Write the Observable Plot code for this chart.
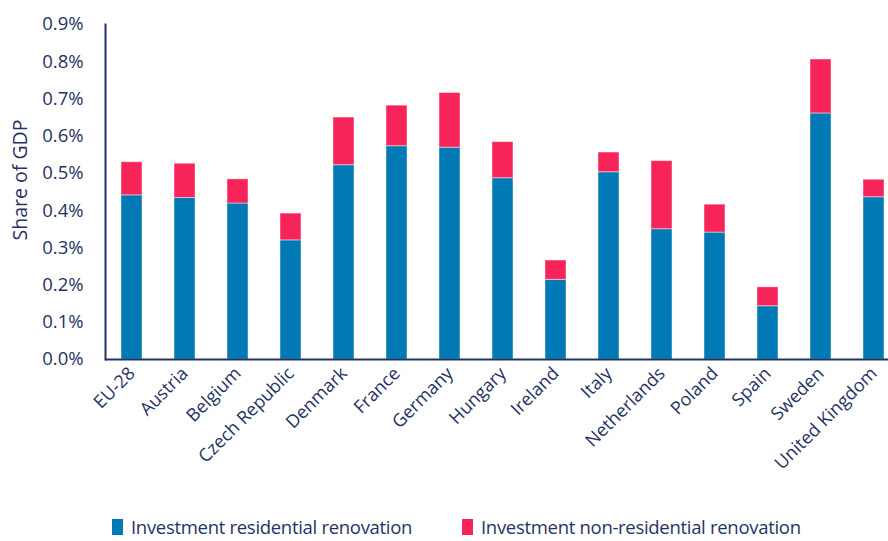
<!DOCTYPE html>
<html>
<head>
<meta charset="utf-8">
<script src="https://cdn.jsdelivr.net/npm/d3@7"></script>
<script src="https://cdn.jsdelivr.net/npm/@observablehq/plot@0.6"></script>
<style>
  html, body { margin: 0; padding: 0; background: #fff; }
  #wrap { width: 888px; height: 541px; position: relative; overflow: hidden; font-family: "Open Sans", sans-serif; }
  #legend { position: absolute; left: 0; top: 514px; width: 888px; height: 27px; }
  .item { position: absolute; top: 0; display: flex; align-items: center; font-size: 18.5px; color: #1f3465; white-space: nowrap; letter-spacing: -0.3px; }
  .sw { width: 11px; height: 16px; margin-right: 8px; }
</style>
</head>
<body>
<div id="wrap"><div id="chart"></div><div id="legend"></div></div>
<script>
const countries = ["EU-28","Austria","Belgium","Czech Republic","Denmark","France","Germany","Hungary","Ireland","Italy","Netherlands","Poland","Spain","Sweden","United Kingdom"];
const residential = [0.441,0.434,0.419,0.320,0.522,0.573,0.569,0.487,0.214,0.503,0.350,0.341,0.143,0.661,0.436];
const nonResidential = [0.089,0.092,0.065,0.072,0.128,0.109,0.147,0.097,0.052,0.053,0.183,0.075,0.051,0.145,0.047];
const seriesNames = ["Investment residential renovation","Investment non-residential renovation"];
const seriesColors = ["#0079b4","#f7245a"];
const yTicks = [0,0.1,0.2,0.3,0.4,0.5,0.6,0.7,0.8,0.9];

const rows = [];
countries.forEach((c, i) => {
  rows.push({country: c, series: seriesNames[0], value: residential[i]});
  rows.push({country: c, series: seriesNames[1], value: nonResidential[i]});
});

const navy = "#1f3465";
const chart = Plot.plot({
  width: 888,
  height: 514,
  marginTop: 24,
  marginBottom: 155,
  marginLeft: 105,
  marginRight: 0,
  style: {fontFamily: "Open Sans, sans-serif", fontSize: "18px", color: navy, background: "transparent"},
  x: {domain: countries, range: [105, 901], paddingInner: 0.6, paddingOuter: 0.3, label: null},
  y: {domain: [0, 0.9], label: null},
  color: {domain: seriesNames, range: seriesColors},
  marks: [
    Plot.barY(rows, Plot.stackY({x: "country", y: "value", fill: "series", order: seriesNames, stroke: "#ffffff", strokeOpacity: 0.45, strokeWidth: 1})),
    Plot.axisY({ticks: yTicks, tickFormat: d => d.toFixed(1) + "%", tickSize: 0, tickPadding: 22, fontSize: 18.5, fill: navy, letterSpacing: "-0.5px"}),
    Plot.axisX({tickSize: 0, tickRotate: -45, tickPadding: 11, fontSize: 18, fill: navy, letterSpacing: "-0.3px"}),
    Plot.ruleY([0], {stroke: navy, strokeWidth: 2}),
    Plot.frame({anchor: "left", stroke: navy, strokeWidth: 2}),
    Plot.text(["Share of GDP"], {frameAnchor: "left", textAnchor: "middle", dx: -85, dy: -12, rotate: -90, fontSize: 19.5, fill: navy, text: d => d})
  ]
});
document.getElementById("chart").appendChild(chart);

const legend = document.getElementById("legend");
const lefts = [112, 462];
seriesNames.forEach((s, i) => {
  const it = document.createElement("div");
  it.className = "item";
  it.style.left = lefts[i] + "px";
  it.innerHTML = `<span class="sw" style="background:${seriesColors[i]}"></span><span>${s}</span>`;
  legend.appendChild(it);
});
</script>
</body>
</html>
